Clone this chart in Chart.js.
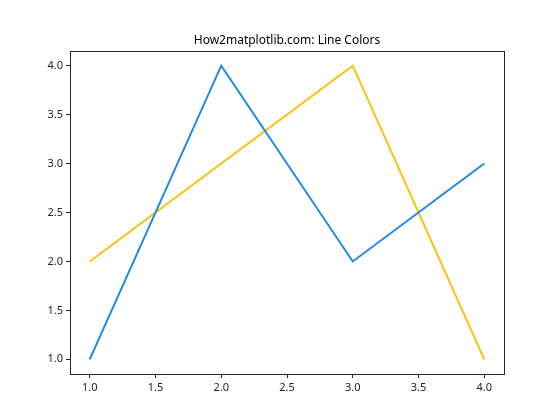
<!DOCTYPE html>
<html><head><meta charset="utf-8">
<script src="https://cdn.jsdelivr.net/npm/chart.js@4"></script>
<style>html,body{margin:0;padding:0;background:#fff}#wrap{width:560px;height:420px}</style>
</head><body><div id="wrap"><canvas id="c" width="560" height="420"></canvas></div>
<script>
const xValues = [1, 2, 3, 4];
const blueValues = [1, 4, 2, 3];
const goldValues = [2, 3, 4, 1];
const tickValues = [1.0, 1.5, 2.0, 2.5, 3.0, 3.5, 4.0];
const titleText = 'How2matplotlib.com: Line Colors';

const FONT = '"Noto Sans", sans-serif';
const frame = {
  id: 'frame',
  afterDraw(chart) {
    const a = chart.chartArea, ctx = chart.ctx;
    ctx.save();
    ctx.strokeStyle = '#262626';
    ctx.lineWidth = 1;
    ctx.strokeRect(Math.round(a.left) + 0.5, Math.round(a.top) + 0.5, Math.round(a.right - a.left), Math.round(a.bottom - a.top));
    ctx.fillStyle = '#000';
    ctx.font = '12px ' + FONT;
    ctx.textAlign = 'center';
    ctx.textBaseline = 'middle';
    ctx.fillText(titleText, (a.left + a.right) / 2, a.top - 10);
    ctx.restore();
  }
};
const setTicks = (s) => { s.ticks = tickValues.map(v => ({ value: v })); };
new Chart(document.getElementById('c'), {
  type: 'line',
  data: {
    datasets: [
      { data: xValues.map((x, i) => ({ x, y: blueValues[i] })), borderColor: '#1E88E5', borderWidth: 2, pointRadius: 0, tension: 0, fill: false },
      { data: xValues.map((x, i) => ({ x, y: goldValues[i] })), borderColor: '#FFC107', borderWidth: 2, pointRadius: 0, tension: 0, fill: false }
    ]
  },
  options: {
    responsive: false,
    animation: false,
    devicePixelRatio: 1,
    layout: { padding: { left: 0, right: 56, top: 51, bottom: 10 } },
    plugins: {
      legend: { display: false },
      tooltip: { enabled: false },
      title: { display: false }
    },
    scales: {
      x: {
        type: 'linear', min: 0.85, max: 4.15,
        afterBuildTicks: setTicks,
        afterFit(s) { s.height = 36; },
        grid: { drawOnChartArea: false, drawTicks: true, tickLength: 4, color: '#262626' },
        border: { color: '#262626' },
        ticks: { color: '#262626', font: { family: FONT, size: 11 }, padding: 3, maxRotation: 0, callback: v => v.toFixed(1) }
      },
      y: {
        type: 'linear', min: 0.85, max: 4.15,
        afterBuildTicks: setTicks,
        afterFit(s) { s.width = 70; },
        grid: { drawOnChartArea: false, drawTicks: true, tickLength: 4, color: '#262626' },
        border: { color: '#262626' },
        ticks: { color: '#262626', font: { family: FONT, size: 11 }, padding: 3, callback: v => v.toFixed(1) }
      }
    }
  },
  plugins: [frame]
});
</script></body></html>
